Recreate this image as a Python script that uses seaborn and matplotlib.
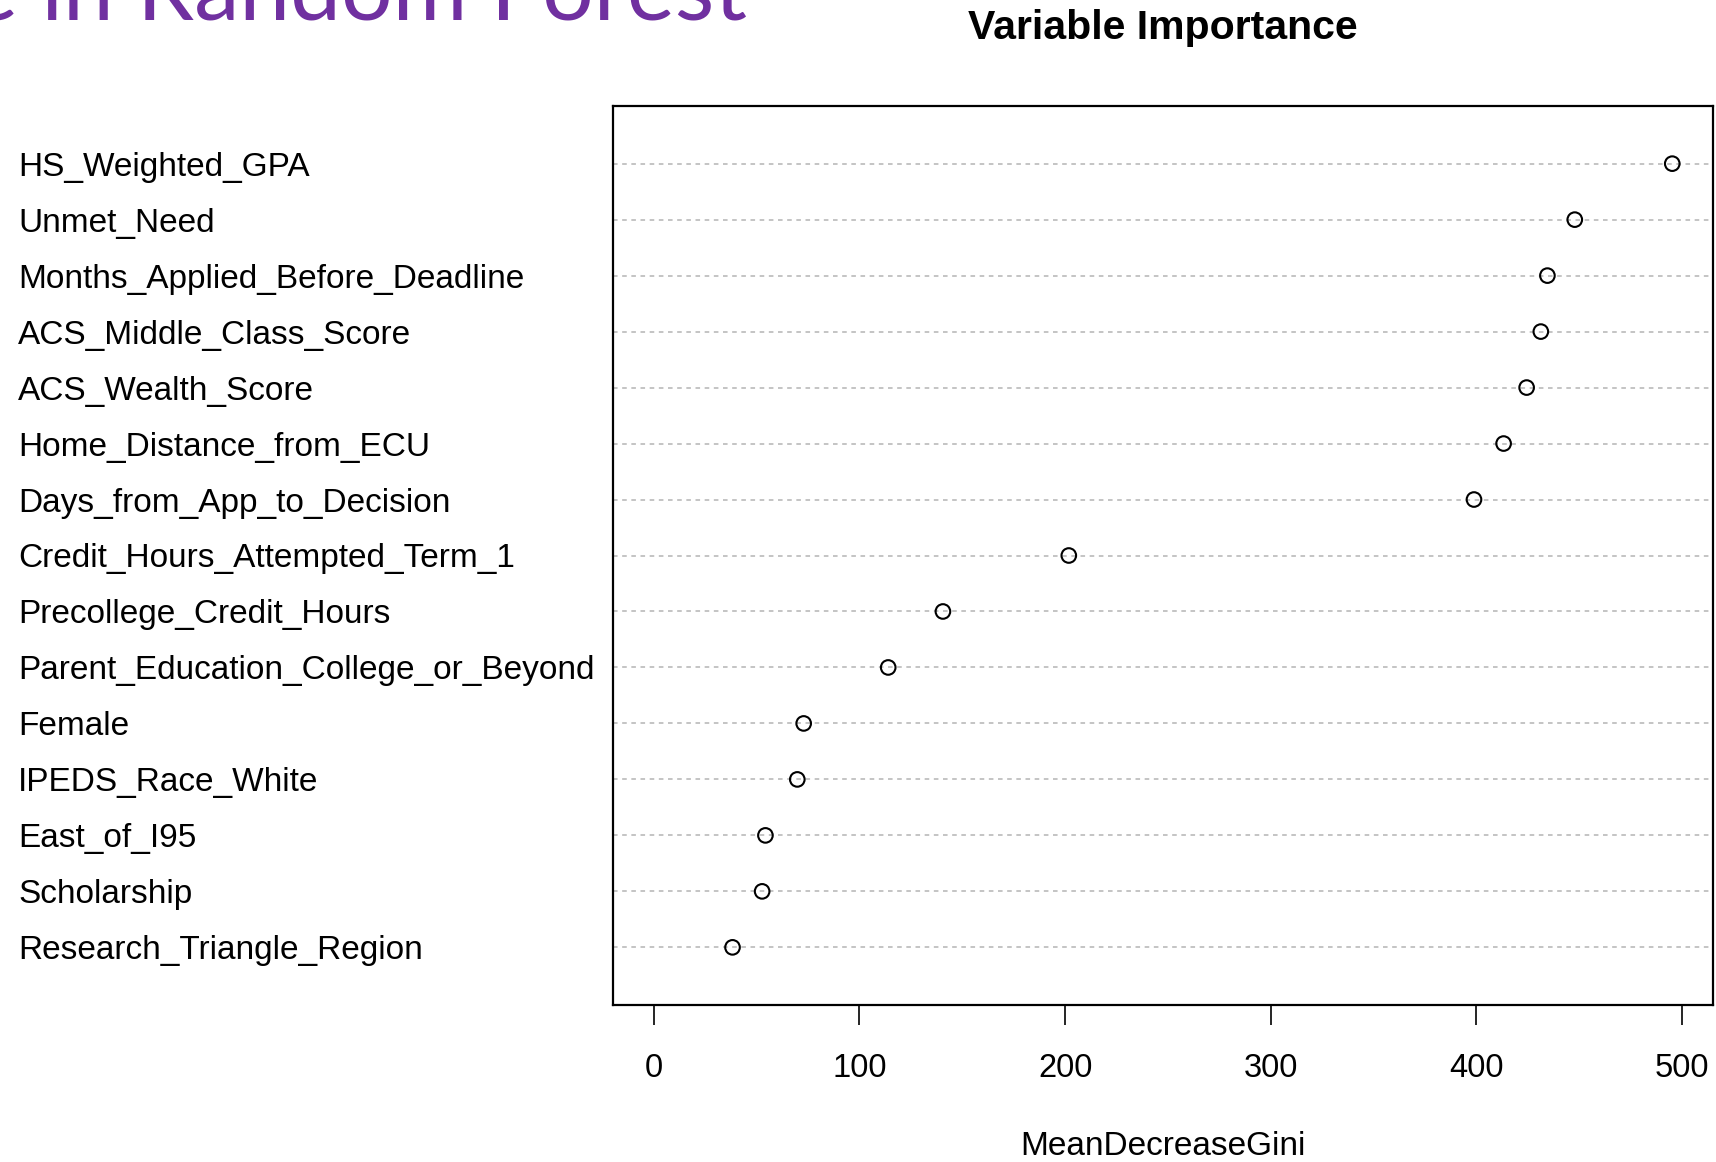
import numpy as np
import pandas as pd
import matplotlib
matplotlib.use("Agg")
import matplotlib.pyplot as plt
import seaborn as sns

variables = [
    "HS_Weighted_GPA", "Unmet_Need", "Months_Applied_Before_Deadline",
    "ACS_Middle_Class_Score", "ACS_Wealth_Score", "Home_Distance_from_ECU",
    "Days_from_App_to_Decision", "Credit_Hours_Attempted_Term_1",
    "Precollege_Credit_Hours", "Parent_Education_College_or_Beyond",
    "Female", "IPEDS_Race_White", "East_of_I95", "Scholarship",
    "Research_Triangle_Region",
]
gini = [495.2, 447.8, 434.5, 431.3, 424.4, 413.2, 398.8, 201.8,
        140.6, 114.0, 72.9, 69.8, 54.3, 52.7, 38.3]
xticks = [0, 100, 200, 300, 400, 500]

df = pd.DataFrame({"variable": variables, "MeanDecreaseGini": gini})

sns.set_style("white")
plt.rcParams["font.family"] = ["Liberation Sans", "DejaVu Sans"]
plt.rcParams["text.color"] = "black"
plt.rcParams["xtick.color"] = "black"
plt.rcParams["ytick.color"] = "black"
plt.rcParams["axes.labelcolor"] = "black"

W, H = 1716, 1162
fig = plt.figure(figsize=(W / 100, H / 100), dpi=100)
ax = fig.add_axes([613 / W, 1 - 1005 / H, 1100 / W, 899 / H])

sns.stripplot(data=df, x="MeanDecreaseGini", y="variable", order=variables,
              jitter=False, marker="o", size=10.5, color="black",
              linewidth=1.5, edgecolor="black", ax=ax, zorder=3)
for coll in ax.collections:
    coll.set_facecolor("none")
    coll.set_edgecolor("black")

# R dotchart style: xlim from 0 to max, extended 4%
xmax = max(gini)
ax.set_xlim(-0.04 * xmax, xmax * 1.04)
ax.set_ylim(len(variables) - 1 + 1.03, -1.03)

ax.yaxis.grid(True, linestyle=(0, (3, 3)), color="#b4b4b4", linewidth=1.1)
ax.xaxis.grid(False)
for s in ax.spines.values():
    s.set_visible(True)
    s.set_color("black")
    s.set_linewidth(1.6)

ax.set_xticks(xticks)
ax.set_xticklabels([str(t) for t in xticks])
ax.tick_params(axis="x", length=14.4, width=1.2, color="black", pad=20,
               labelsize=23.5, direction="out", bottom=True)
ax.tick_params(axis="y", length=0, pad=(613 - 18) * 0.72, labelsize=24)
for lab in ax.get_yticklabels():
    lab.set_horizontalalignment("left")

ax.set_ylabel("")
ax.set_xlabel("MeanDecreaseGini", fontsize=24, labelpad=34)
ax.set_title("Variable Importance", fontsize=29.5, fontweight="bold", pad=48.5)

fig.text(747 / W, 1 - 20 / H, "e in Random Forest", ha="right", va="baseline",
         fontsize=65.5, color="#7030a0", family=["Lato", "DejaVu Sans"])

fig.savefig("out.png", dpi=100, facecolor="white")
